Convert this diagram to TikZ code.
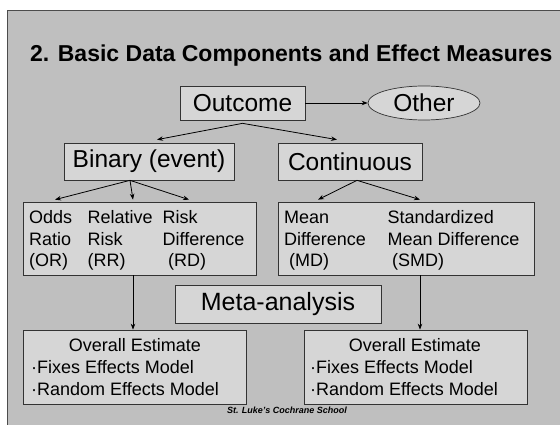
\documentclass[tikz,border=0pt]{standalone}
\usepackage{fontspec}
\setmainfont{Liberation Sans}
\usetikzlibrary{arrows.meta,shapes.geometric}
\definecolor{slidegray}{gray}{0.75}
\definecolor{boxgray}{gray}{0.84}
\begin{document}
\begin{tikzpicture}[x=1pt,y=-1pt,
  frame/.style={draw=black!80,line width=0.7pt,fill=boxgray,inner sep=0pt},
  big/.style={font=\fontsize{24.5}{28}\selectfont},
  body/.style={font=\fontsize{18}{21}\selectfont,anchor=base west,inner sep=0pt},
  arr/.style={-{Stealth[length=6pt,width=4.5pt]},line width=0.8pt}]
\useasboundingbox (0,0) rectangle (560,425);
\fill[white] (0,0) rectangle (560,425);
% slide background
\filldraw[fill=slidegray,draw=black!70,line width=0.8pt] (7,10) rectangle (566,431);

% title
\node[anchor=base west,inner sep=0pt,font=\fontsize{23}{27}\selectfont\bfseries] (title) at (30,62)
  {2. Basic Data Components and Effect Measures};

% top level
\node[frame,big,minimum width=125pt,minimum height=34pt] (outcome) at (242.5,103) {Outcome};
\node[ellipse,frame,big,minimum width=112pt,minimum height=34pt] (other) at (424,103) {Other};
\draw[arr] (outcome.east) -- (other.west);

% data types
\node[frame,big,minimum width=170pt,minimum height=37pt] (binary) at (149,161.5) {Binary (event)};
\node[frame,big,minimum width=144pt,minimum height=37pt] (contin) at (350,161.5) {Continuous};
\draw[arr] ([yshift=-3pt]outcome.south) -- ([xshift=8pt,yshift=3pt]binary.north);
\draw[arr] ([yshift=-3pt]outcome.south) -- ([xshift=-13pt,yshift=3pt]contin.north);

% effect measures
\node[frame,minimum width=233pt,minimum height=73pt] (dataL) at (139.5,238.5) {};
\node[frame,minimum width=256pt,minimum height=73pt] (dataR) at (406,238.5) {};
\draw[arr] ([xshift=-19pt]binary.south) -- ([xshift=-84.5pt,yshift=2pt]dataL.north);
\draw[arr] ([xshift=-19pt]binary.south) -- ([xshift=-6.5pt,yshift=2pt]dataL.north);
\draw[arr] ([xshift=-19pt]binary.south) -- ([xshift=49.5pt,yshift=2pt]dataL.north);
\draw[arr] ([xshift=7pt]contin.south) -- ([xshift=-88pt,yshift=2pt]dataR.north);
\draw[arr] ([xshift=7pt]contin.south) -- ([xshift=14pt,yshift=2pt]dataR.north);

\node[body] (or1) at (29,223.5) {Odds};
\node[body] (or2) at (29,245) {Ratio};
\node[body] (or3) at (29,266.5) {(OR)};
\node[body] (rr1) at (87.5,223.5) {Relative};
\node[body] (rr2) at (87.5,245) {Risk};
\node[body] (rr3) at (87.5,266.5) {(RR)};
\node[body] (rd1) at (162.5,223.5) {Risk};
\node[body] (rd2) at (162.5,245) {Difference};
\node[body] (rd3) at (168,266.5) {(RD)};
\node[body] (md1) at (284,223.5) {Mean};
\node[body] (md2) at (284,245) {Difference};
\node[body] (md3) at (289,266.5) {(MD)};
\node[body] (smd1) at (387.5,223.5) {Standardized};
\node[body] (smd2) at (387.5,245) {Mean Difference};
\node[body] (smd3) at (392,266.5) {(SMD)};

% meta-analysis
\node[frame,font=\fontsize{25}{29}\selectfont,minimum width=206pt,minimum height=38pt] (meta) at (278,304) {Meta-analysis};

% overall estimates
\node[frame,minimum width=223pt,minimum height=74pt] (ovL) at (134.5,367) {};
\node[frame,minimum width=223pt,minimum height=74pt] (ovR) at (415.5,367) {};
\draw[arr] ([xshift=-6.5pt]dataL.south) -- ([xshift=-1.5pt]ovL.north);
\draw[arr] ([xshift=14pt]dataR.south) -- ([xshift=4.5pt]ovR.north);

\node[body,anchor=base] (oe1) at (135,351.5) {Overall Estimate};
\node[body] (fe1) at (31,373.5) {·Fixes Effects Model};
\node[body] (re1) at (31,395) {·Random Effects Model};
\node[body,anchor=base] (oe2) at (415,351.5) {Overall Estimate};
\node[body] (fe2) at (310,373.5) {·Fixes Effects Model};
\node[body] (re2) at (310,395) {·Random Effects Model};

% footer
\node[inner sep=0pt,font=\fontsize{9}{10}\selectfont\bfseries\itshape] (footer) at (287,410) {St. Luke's Cochrane School};
\end{tikzpicture}
\end{document}
